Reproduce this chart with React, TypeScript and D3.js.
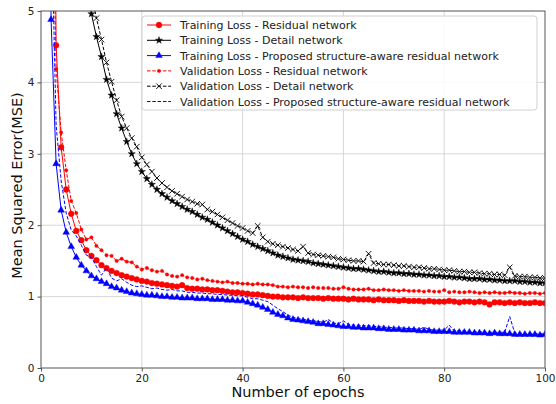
import React, { useEffect, useRef } from "react";
import * as d3 from "d3";

// values, epochs 1..100 (early epochs above 5 are clipped)
const trainResidual = [
  25, 14, 4.52, 3.09, 2.5, 2.16, 1.92, 1.79, 1.65, 1.57,
  1.51, 1.44, 1.4, 1.36, 1.33, 1.3, 1.28, 1.26, 1.24, 1.22,
  1.21, 1.19, 1.18, 1.17, 1.16, 1.15, 1.14, 1.16, 1.12, 1.11,
  1.11, 1.1, 1.1, 1.09, 1.09, 1.08, 1.07, 1.06, 1.06, 1.05,
  1.04, 1.03, 1.03, 1.02, 1.01, 1.0, 1.0, 0.99, 0.99, 0.99,
  0.98, 0.99, 0.98, 0.98, 0.98, 0.97, 0.98, 0.97, 0.97, 0.97,
  0.96, 0.97, 0.96, 0.96, 0.96, 0.95, 0.96, 0.95, 0.95, 0.95,
  0.94, 0.95, 0.94, 0.94, 0.94, 0.93, 0.94, 0.93, 0.93, 0.93,
  0.94, 0.93, 0.92, 0.93, 0.93, 0.92, 0.93, 0.92, 0.89, 0.92,
  0.92, 0.91, 0.92, 0.91, 0.92, 0.91, 0.91, 0.92, 0.91, 0.91,
];
const trainDetail = [
  40, 30, 22, 16, 12, 9.5, 7.6, 6.4, 5.5, 4.96,
  4.64, 4.36, 4.04, 3.82, 3.56, 3.36, 3.17, 3.0, 2.86, 2.75,
  2.65, 2.57, 2.5, 2.44, 2.39, 2.34, 2.3, 2.26, 2.22, 2.19,
  2.15, 2.11, 2.08, 2.04, 2.0, 1.96, 1.92, 1.88, 1.84, 1.8,
  1.77, 1.73, 1.7, 1.67, 1.64, 1.61, 1.58, 1.56, 1.54, 1.52,
  1.51, 1.5, 1.49, 1.47, 1.46, 1.45, 1.44, 1.43, 1.42, 1.41,
  1.4, 1.39, 1.39, 1.38, 1.37, 1.36, 1.35, 1.35, 1.34, 1.33,
  1.33, 1.32, 1.32, 1.31, 1.31, 1.3, 1.3, 1.29, 1.29, 1.28,
  1.28, 1.27, 1.27, 1.26, 1.25, 1.25, 1.25, 1.24, 1.24, 1.23,
  1.23, 1.22, 1.22, 1.22, 1.21, 1.21, 1.2, 1.2, 1.19, 1.19,
];
const trainProposed = [
  15, 4.88, 2.86, 2.21, 1.9, 1.7, 1.55, 1.44, 1.36, 1.29,
  1.25, 1.21, 1.18, 1.14, 1.12, 1.09, 1.07, 1.05, 1.04, 1.03,
  1.02, 1.02, 1.01, 1.0, 1.0, 0.99, 0.99, 0.98, 0.98, 0.98,
  0.97, 0.97, 0.97, 0.96, 0.96, 0.96, 0.95, 0.95, 0.94, 0.94,
  0.92, 0.9, 0.88, 0.85, 0.82, 0.78, 0.75, 0.73, 0.7, 0.68,
  0.67, 0.66, 0.65, 0.64, 0.62, 0.62, 0.61, 0.6, 0.59, 0.58,
  0.58, 0.57, 0.57, 0.56, 0.56, 0.56, 0.55, 0.55, 0.54, 0.54,
  0.54, 0.53, 0.53, 0.53, 0.52, 0.52, 0.52, 0.51, 0.51, 0.51,
  0.51, 0.5, 0.5, 0.5, 0.5, 0.49, 0.49, 0.49, 0.48, 0.49,
  0.48, 0.48, 0.48, 0.47, 0.47, 0.47, 0.47, 0.47, 0.46, 0.47,
];
const valResidual = [
  20, 8, 4.19, 3.3, 2.77, 2.34, 2.17, 1.94, 1.8, 1.83,
  1.71, 1.65, 1.58, 1.57, 1.5, 1.53, 1.49, 1.48, 1.42, 1.38,
  1.4, 1.37, 1.35, 1.36, 1.31, 1.29, 1.28, 1.3, 1.27, 1.26,
  1.24, 1.25, 1.23, 1.22, 1.21, 1.2, 1.21, 1.19, 1.19, 1.18,
  1.18, 1.17, 1.18, 1.17, 1.17, 1.16, 1.14, 1.14, 1.13, 1.14,
  1.13, 1.13, 1.12, 1.13, 1.12, 1.12, 1.12, 1.11, 1.11, 1.13,
  1.11, 1.1, 1.1, 1.1, 1.11, 1.09, 1.09, 1.1, 1.09, 1.09,
  1.08, 1.09, 1.08, 1.08, 1.08, 1.07, 1.08, 1.07, 1.07, 1.09,
  1.06, 1.07, 1.06, 1.06, 1.07, 1.06, 1.05, 1.06, 1.05, 1.06,
  1.05, 1.05, 1.06, 1.05, 1.05, 1.04, 1.05, 1.05, 1.04, 1.05,
];
const valDetail = [
  45, 34, 25, 18, 13.5, 10.5, 8.4, 7.0, 5.9, 5.25,
  4.9, 4.6, 4.28, 4.01, 3.75, 3.52, 3.36, 3.22, 3.1, 2.95,
  2.85, 2.75, 2.66, 2.59, 2.53, 2.48, 2.44, 2.4, 2.36, 2.33,
  2.3, 2.29, 2.22, 2.19, 2.15, 2.11, 2.07, 2.03, 1.99, 1.96,
  1.92, 1.89, 1.99, 1.83, 1.77, 1.74, 1.72, 1.7, 1.68, 1.66,
  1.64, 1.7, 1.61, 1.59, 1.58, 1.57, 1.56, 1.55, 1.53, 1.52,
  1.51, 1.5, 1.5, 1.49, 1.6, 1.47, 1.46, 1.45, 1.45, 1.44,
  1.43, 1.43, 1.42, 1.41, 1.41, 1.4, 1.39, 1.39, 1.38, 1.37,
  1.37, 1.36, 1.35, 1.35, 1.34, 1.34, 1.33, 1.32, 1.32, 1.31,
  1.31, 1.3, 1.41, 1.29, 1.28, 1.28, 1.27, 1.27, 1.26, 1.26,
];
const valProposed = [
  18, 6.5, 3.4, 2.62, 2.17, 1.93, 1.85, 1.72, 1.58, 1.55,
  1.42, 1.3, 1.4, 1.26, 1.22, 1.25, 1.2, 1.16, 1.14, 1.15,
  1.13, 1.11, 1.12, 1.1, 1.09, 1.1, 1.08, 1.08, 1.06, 1.06,
  1.05, 1.05, 1.04, 1.04, 1.03, 1.03, 1.02, 1.02, 1.01, 1.01,
  0.99, 0.97, 0.97, 0.95, 0.93, 0.88, 0.83, 0.79, 0.74, 0.71,
  0.69, 0.68, 0.67, 0.66, 0.65, 0.64, 0.68, 0.63, 0.62, 0.66,
  0.61, 0.6, 0.6, 0.59, 0.59, 0.58, 0.58, 0.57, 0.57, 0.56,
  0.56, 0.56, 0.55, 0.55, 0.54, 0.57, 0.54, 0.53, 0.53, 0.53,
  0.6, 0.52, 0.52, 0.52, 0.51, 0.51, 0.51, 0.5, 0.5, 0.5,
  0.5, 0.5, 0.72, 0.49, 0.49, 0.48, 0.48, 0.48, 0.48, 0.48,
];

const epochs = trainResidual.map((_, i) => i + 1);
const xTicks = [0, 20, 40, 60, 80, 100];
const yTicks = [0, 1, 2, 3, 4, 5];

const series = [
  { label: "Training Loss - Residual network", values: trainResidual, color: "#ff0000", dash: null, marker: d3.symbolCircle, size: 26, fill: true },
  { label: "Training Loss - Detail network", values: trainDetail, color: "#000000", dash: null, marker: d3.symbolStar, size: 16, fill: true },
  { label: "Training Loss - Proposed structure-aware residual network", values: trainProposed, color: "#0000ff", dash: null, marker: d3.symbolTriangle, size: 20, fill: true },
  { label: "Validation Loss - Residual network", values: valResidual, color: "#ff0000", dash: "3.5,1.8", marker: d3.symbolCircle, size: 9, fill: true },
  { label: "Validation Loss - Detail network", values: valDetail, color: "#000000", dash: "3.5,1.8", marker: d3.symbolTimes, size: 22, fill: false },
  { label: "Validation Loss - Proposed structure-aware residual network", values: valProposed, color: "#0000ff", dash: "3.5,1.8", marker: null, size: 0, fill: false },
];

const W = 556;
const H = 404;
const FONT = "DejaVu Sans, sans-serif";

const App = () => {
  const ref = useRef<SVGSVGElement>(null);

  useEffect(() => {
    const margin = { top: 11, right: 11, bottom: 36, left: 41 };
    const width = W - margin.left - margin.right;
    const height = H - margin.top - margin.bottom;

    const root = d3.select(ref.current);
    root.selectAll("*").remove();

    const svg = root.append("g").attr("transform", `translate(${margin.left},${margin.top})`);

    const x = d3.scaleLinear().domain([0, 100]).range([0, width]);
    const y = d3.scaleLinear().domain([0, 5]).range([height, 0]);

    root
      .append("defs")
      .append("clipPath")
      .attr("id", "plot-clip")
      .append("rect")
      .attr("width", width)
      .attr("height", height);

    // grid
    svg
      .append("g")
      .selectAll("line")
      .data(xTicks.slice(1, -1))
      .enter()
      .append("line")
      .attr("x1", (d) => x(d))
      .attr("x2", (d) => x(d))
      .attr("y1", 0)
      .attr("y2", height)
      .attr("stroke", "#d3d3d3")
      .attr("stroke-width", 0.9);
    svg
      .append("g")
      .selectAll("line")
      .data(yTicks.slice(1, -1))
      .enter()
      .append("line")
      .attr("x1", 0)
      .attr("x2", width)
      .attr("y1", (d) => y(d))
      .attr("y2", (d) => y(d))
      .attr("stroke", "#d3d3d3")
      .attr("stroke-width", 0.9);

    // curves
    const plot = svg.append("g").attr("clip-path", "url(#plot-clip)");
    const line = d3
      .line<number>()
      .x((_, i) => x(epochs[i]))
      .y((d) => y(d));

    series.forEach((s) => {
      plot
        .append("path")
        .attr("d", line(s.values))
        .attr("fill", "none")
        .attr("stroke", s.color)
        .attr("stroke-width", 1)
        .attr("stroke-dasharray", s.dash);
      if (s.marker) {
        const sym = d3.symbol().type(s.marker).size(s.size);
        plot
          .append("g")
          .selectAll("path")
          .data(s.values)
          .enter()
          .append("path")
          .attr("transform", (d, i) => `translate(${x(epochs[i])},${y(d)})`)
          .attr("d", sym())
          .attr("fill", s.fill ? s.color : "none")
          .attr("stroke", s.color)
          .attr("stroke-width", s.fill ? 0.4 : 0.9);
      }
    });

    // frame
    svg
      .append("rect")
      .attr("width", width)
      .attr("height", height)
      .attr("fill", "none")
      .attr("stroke", "#555")
      .attr("stroke-width", 1);

    // axes
    const xAxis = svg
      .append("g")
      .attr("transform", `translate(0,${height})`)
      .call(d3.axisBottom(x).tickValues(xTicks).tickFormat(d3.format("d")).tickSize(3.5).tickPadding(3));
    const yAxis = svg
      .append("g")
      .call(d3.axisLeft(y).tickValues(yTicks).tickFormat(d3.format("d")).tickSize(3.5).tickPadding(3));
    [xAxis, yAxis].forEach((a) => {
      a.select(".domain").remove();
      a.selectAll("line").attr("stroke", "#555");
      a.selectAll("text").attr("font-family", FONT).attr("font-size", 10.5).attr("fill", "#222");
    });

    svg
      .append("text")
      .attr("x", width / 2 + 5)
      .attr("y", height + 29)
      .attr("text-anchor", "middle")
      .attr("font-family", FONT)
      .attr("font-size", 14.5)
      .attr("fill", "#111")
      .text("Number of epochs");
    svg
      .append("text")
      .attr("transform", `translate(${22 - margin.left},${height / 2 - 4}) rotate(-90)`)
      .attr("text-anchor", "middle")
      .attr("font-family", FONT)
      .attr("font-size", 14.5)
      .attr("fill", "#111")
      .text("Mean Squared Error(MSE)");

    // legend
    const legend = root.append("g").attr("transform", "translate(142,16)");
    legend
      .append("rect")
      .attr("width", 395)
      .attr("height", 94)
      .attr("rx", 3)
      .attr("fill", "#fff")
      .attr("fill-opacity", 0.85)
      .attr("stroke", "#d0d0d0")
      .attr("stroke-width", 1);
    series.forEach((s, i) => {
      const row = legend.append("g").attr("transform", `translate(0,${9 + i * 15.3})`);
      row
        .append("line")
        .attr("x1", 5)
        .attr("x2", 29)
        .attr("stroke", s.color)
        .attr("stroke-width", 1)
        .attr("stroke-dasharray", s.dash);
      if (s.marker) {
        row
          .append("path")
          .attr("transform", "translate(17,0)")
          .attr("d", d3.symbol().type(s.marker).size(s.size)())
          .attr("fill", s.fill ? s.color : "none")
          .attr("stroke", s.color)
          .attr("stroke-width", s.fill ? 0.4 : 0.9);
      }
      row
        .append("text")
        .attr("x", 38)
        .attr("y", 4)
        .attr("font-family", FONT)
        .attr("font-size", 11)
        .attr("fill", "#222")
        .text(s.label);
    });
  }, []);

  return (
    <div style={{ position: "absolute", left: 0, top: 0 }}>
      <svg ref={ref} width={W} height={H} style={{ display: "block", background: "#fff" }} />
    </div>
  );
};

export default App;
